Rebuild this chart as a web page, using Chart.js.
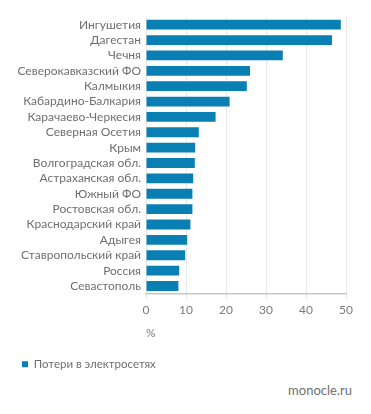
<!DOCTYPE html>
<html>
<head>
<meta charset="utf-8">
<script src="https://cdn.jsdelivr.net/npm/chart.js@4/dist/chart.umd.min.js"></script>
<style>
  html, body { margin: 0; padding: 0; background: #fff; }
  #wrap { position: relative; width: 371px; height: 414px; }
  #credit { position: absolute; right: 19px; top: 382px; font: 13px Lato, sans-serif; color: #6f6f6f; }
</style>
</head>
<body>
<div id="wrap">
  <canvas id="myChart" width="371" height="380"></canvas>
  <div id="credit">monocle.ru</div>
</div>
<script>
// Regions, top to bottom
const regions = ['Ингушетия', 'Дагестан', 'Чечня', 'Северокавказский ФО', 'Калмыкия',
  'Кабардино-Балкария', 'Карачаево-Черкесия', 'Северная Осетия', 'Крым', 'Волгоградская обл.',
  'Астраханская обл.', 'Южный ФО', 'Ростовская обл.', 'Краснодарский край', 'Адыгея',
  'Ставропольский край', 'Россия', 'Севастополь'];

// Losses in power grids, %
const losses = [48.7, 46.5, 34.2, 26.0, 25.2, 20.9, 17.4, 13.2, 12.3, 12.2,
  11.8, 11.6, 11.6, 11.1, 10.3, 9.8, 8.3, 8.1];

const xTicks = [0, 10, 20, 30, 40, 50];

const ctx = document.getElementById('myChart').getContext('2d');
const chart = new Chart(ctx, {
  type: 'bar',
  data: {
    labels: regions,
    datasets: [{
      label: 'Потери в электросетях',
      data: losses,
      backgroundColor: '#0a7fb4',
      borderWidth: 0,
      barPercentage: 0.64,
      categoryPercentage: 1
    }]
  },
  options: {
    indexAxis: 'y',
    responsive: false,
    animation: false,
    layout: { padding: { top: 17, right: 25, left: 10, bottom: 0 } },
    scales: {
      x: {
        min: 0,
        max: 50,
        afterBuildTicks: scale => { scale.ticks = xTicks.map(v => ({ value: v })); },
        grid: { color: '#e8e8e8', tickLength: 5, tickColor: '#e8e8e8' },
        border: { color: '#c8c8c8', width: 1.5 },
        ticks: { color: '#7a7a7a', font: { family: 'Lato', size: 12 }, padding: 4 },
        title: {
          display: true, text: '%', align: 'start', color: '#7a7a7a',
          font: { family: 'Lato', size: 12 }, padding: { top: 5, bottom: 6 }
        }
      },
      y: {
        afterFit: scale => { scale.width = 136; },
        grid: { display: false, drawTicks: false },
        border: { display: false },
        ticks: { color: '#6f6f6f', font: { family: 'Lato', size: 12 }, padding: 5, autoSkip: false }
      }
    },
    plugins: {
      legend: {
        position: 'bottom',
        align: 'start',
        labels: {
          boxWidth: 6, boxHeight: 6, color: '#6f6f6f',
          font: { family: 'Lato', size: 11.5 }, padding: 12
        }
      },
      tooltip: { enabled: false }
    }
  }
});
</script>
</body>
</html>
